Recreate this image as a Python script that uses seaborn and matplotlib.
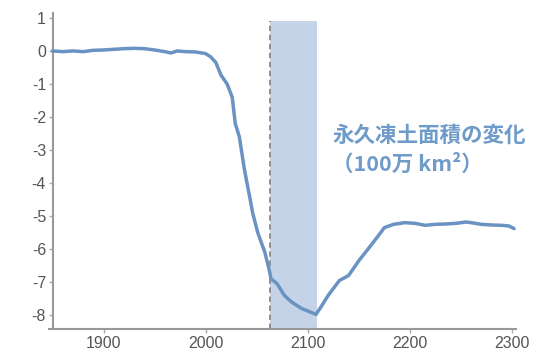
import matplotlib
matplotlib.use("Agg")
import matplotlib.pyplot as plt
import seaborn as sns
import pandas as pd

years = [1850, 1860, 1870, 1880, 1890, 1900, 1910, 1920, 1930, 1940, 1950, 1960, 1966, 1972,
         1980, 1990, 2000, 2005, 2010, 2015, 2021, 2026, 2029, 2033, 2038, 2043, 2046, 2051,
         2058, 2062, 2064, 2070, 2077, 2084, 2094, 2102, 2108, 2114, 2120, 2131, 2140,
         2150, 2159, 2169, 2175, 2184, 2195, 2205, 2215, 2225, 2235, 2245, 2255, 2260, 2270,
         2280, 2290, 2297, 2302]
area_change = [0.0, -0.02, 0.0, -0.02, 0.02, 0.03, 0.05, 0.07, 0.08, 0.07, 0.03, -0.02, -0.06, 0.0,
               -0.02, -0.03, -0.08, -0.18, -0.35, -0.73, -1.0, -1.4, -2.2, -2.6, -3.6, -4.4, -4.9, -5.5,
               -6.1, -6.6, -6.9, -7.05, -7.4, -7.6, -7.8, -7.9, -7.98, -7.7, -7.4, -6.95, -6.8,
               -6.35, -6.0, -5.6, -5.35, -5.25, -5.2, -5.22, -5.28, -5.25, -5.24, -5.22, -5.18, -5.2, -5.25,
               -5.27, -5.28, -5.3, -5.38]
band_start, band_end = 2063, 2109
y_ticks = [1, 0, -1, -2, -3, -4, -5, -6, -7, -8]
x_ticks = [1900, 2000, 2100, 2200, 2300]
label_lines = ["永久凍土面積の変化", "（100万 km²）"]

df = pd.DataFrame({"year": years, "value": area_change})

sns.set_style("white")
plt.rcParams['font.family'] = ['Liberation Sans', 'DejaVu Sans']

fig = plt.figure(figsize=(5.4, 3.53), dpi=100)
ax = fig.add_axes([49/540, 1-329/353, (516-49)/540, (329-13)/353])

line_color = "#6a93c3"
ax.axvspan(band_start, band_end, ymin=0, ymax=(0.91+8.42)/(1.15+8.42), color="#c5d3e8", lw=0, zorder=1)
ax.plot([band_start, band_start], [-8.42, 0.91], ls=(0, (3, 2)), color="#888888", lw=1.3, zorder=2)
sns.lineplot(data=df, x="year", y="value", ax=ax, color=line_color, lw=2.5, zorder=3)

ax.set_xlim(1846.6, 2303.9)
ax.set_ylim(-8.42, 1.15)
ax.set_xticks(x_ticks)
ax.set_yticks(y_ticks)
ax.set_yticklabels([str(v) for v in y_ticks])
ax.set_xlabel("")
ax.set_ylabel("")
for s in ["top", "right"]:
    ax.spines[s].set_visible(False)
ax.spines["left"].set_position(("data", 1850.5))
for s in ["left", "bottom"]:
    ax.spines[s].set_color("#999999")
    ax.spines[s].set_linewidth(1.5)
ax.tick_params(axis="both", which="both", direction="out", length=3, width=1, color="#aaaaaa",
               labelsize=11.5, labelcolor="#555555", pad=2, left=True, bottom=True)

txt_kw = dict(family=['Noto Sans CJK JP', 'DejaVu Sans'], fontsize=15.5, fontweight='bold',
              color="#6f9bc9", transform=fig.transFigure, va="center", ha="left")
fig.text(332/540, 1-135/353, label_lines[0], **txt_kw)
fig.text(332/540, 1-164/353, label_lines[1], **txt_kw)

fig.savefig("out.png", dpi=100)
